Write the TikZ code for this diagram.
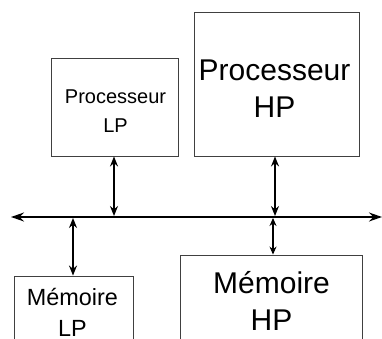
\documentclass[tikz,border=0pt]{standalone}
\usepackage{fontspec}
\setmainfont{Liberation Sans}
\usetikzlibrary{arrows.meta}
\begin{document}
\begin{tikzpicture}[x=1pt,y=-1pt,
  box/.style={draw=black!75,line width=0.9pt,inner sep=0pt,fill=none},
  link/.style={line width=1.4pt,{Stealth[length=10pt,width=8pt]}-{Stealth[length=10pt,width=8pt]}},
  smalltxt/.style={anchor=base,inner sep=0pt,font=\fontsize{20}{24}\selectfont},
  midtxt/.style={anchor=base,inner sep=0pt,font=\fontsize{23.4}{28}\selectfont},
  bigtxt/.style={anchor=base,inner sep=0pt,font=\fontsize{30}{36}\selectfont}]
\useasboundingbox (0,0) rectangle (382,339);
\clip (0,0) rectangle (382,339);
% boxes
\node[box,minimum width=127pt,minimum height=98pt] (plp) at (114.5,107) {};
\node[box,minimum width=165pt,minimum height=144pt] (php) at (276.5,84) {};
\node[box,minimum width=119pt,minimum height=100pt] (mlp) at (73.5,326) {};
\node[box,minimum width=182pt,minimum height=120pt] (mhp) at (271,315) {};
% texts
\node[smalltxt] (plp1) at (115.5,104) {Processeur};
\node[smalltxt] (plp2) at (115.5,132) {LP};
\node[bigtxt] (php1) at (274.5,81) {Processeur};
\node[bigtxt] (php2) at (274.5,118) {HP};
\node[midtxt] (mlp1) at (72.5,305) {Mémoire};
\node[midtxt] (mlp2) at (72.5,336) {LP};
\node[bigtxt] (mhp1) at (271.5,293) {Mémoire};
\node[bigtxt] (mhp2) at (271.5,330) {HP};
% bus
\coordinate (busL) at (11,217);
\coordinate (busR) at (382,217);
\coordinate (b1) at (114,216);
\coordinate (b2) at (275,216);
\coordinate (b3) at (73,218);
\coordinate (b4) at (273,218);
\draw[line width=1.4pt,{Stealth[length=13pt,width=9pt]}-{Stealth[length=13pt,width=9pt]}] (busL) -- (busR);
\draw[link] (plp.south -| b1) -- (b1);
\draw[link] (php.south -| b2) -- (b2);
\draw[link] (b3) -- (mlp.north -| b3);
\draw[line width=1.1pt,{Stealth[length=8pt,width=7pt]}-{Stealth[length=8pt,width=7pt]}] (b4) -- (mhp.north -| b4);
\end{tikzpicture}
\end{document}
